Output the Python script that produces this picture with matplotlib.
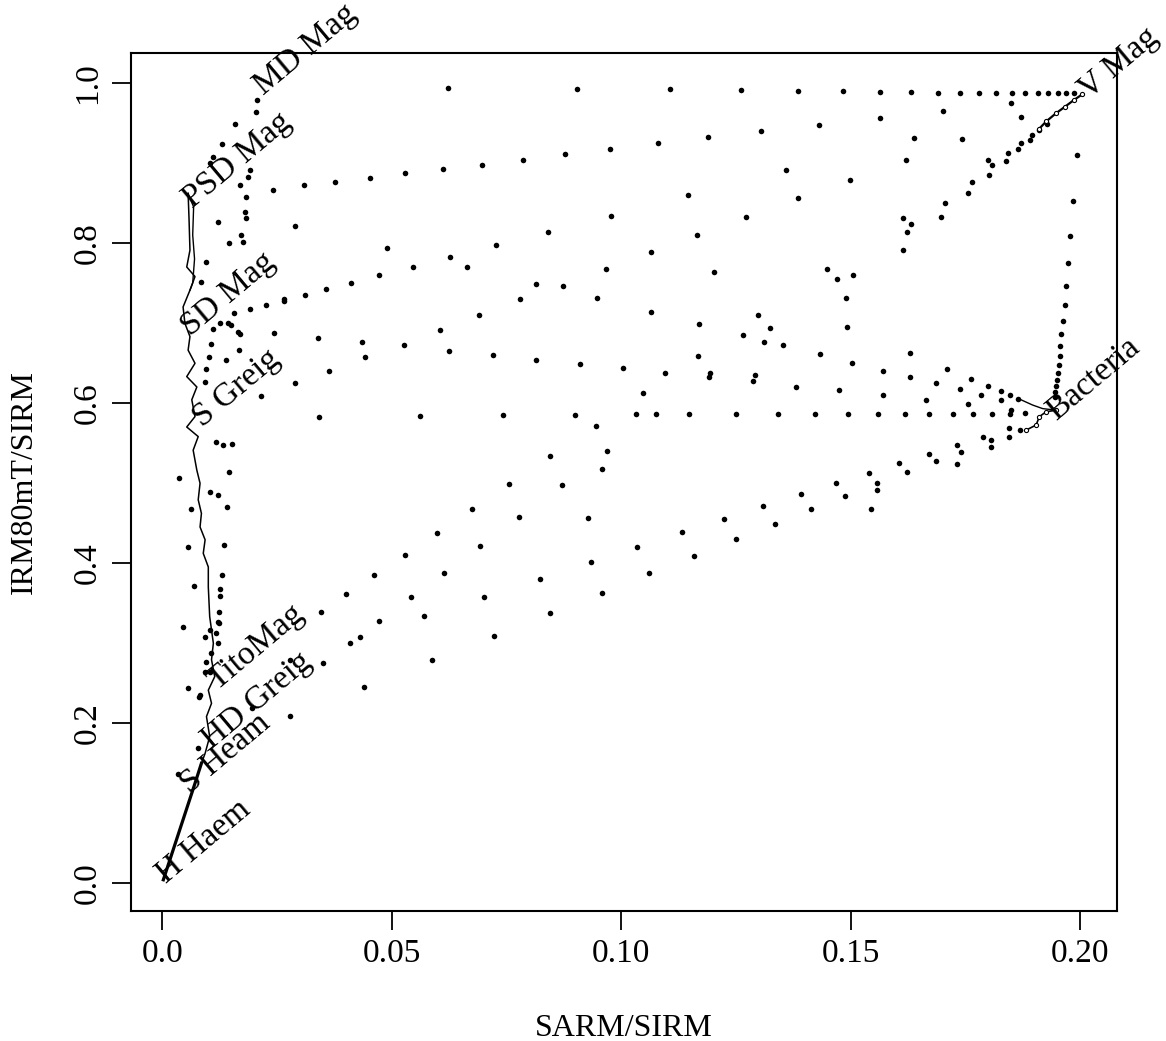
import matplotlib
matplotlib.use('Agg')
import matplotlib.pyplot as plt

plt.rcParams['font.family'] = ['Liberation Serif', 'DejaVu Serif']

# End members (label anchors)
member_names = ['H Haem', 'S Heam', 'HD Greig', 'TitoMag', 'S Greig',
                'SD Mag', 'PSD Mag', 'MD Mag', 'V Mag', 'Bacteria']
member_x = [-0.0008, 0.0044, 0.0091, 0.0102, 0.0070,
            0.0045, 0.0048, 0.0204, 0.2001, 0.1932]
member_y = [0.010, 0.123, 0.178, 0.252, 0.581,
            0.694, 0.854, 0.996, 0.990, 0.589]

# Mixing lines (dots)
md_vmag_x = [0.0622, 0.0904, 0.1106, 0.1261, 0.1384, 0.1483, 0.1564, 0.1632, 0.1690, 0.1738,
             0.1780, 0.1817, 0.1851, 0.1880, 0.1907, 0.1930, 0.1951, 0.1970, 0.1987]
md_vmag_y = [0.994, 0.993, 0.992, 0.991, 0.990, 0.990, 0.989, 0.989, 0.988, 0.988,
             0.988, 0.988, 0.988, 0.987, 0.987, 0.987, 0.987, 0.987, 0.987]

psd_vmag_x = [0.0241, 0.0308, 0.0377, 0.0453, 0.0529, 0.0611, 0.0696, 0.0785, 0.0878,
              0.0976, 0.1079, 0.1189, 0.1305, 0.1430, 0.1563, 0.1700, 0.1849]
psd_vmag_y = [0.866, 0.8725, 0.8767, 0.8817, 0.887, 0.8925, 0.898, 0.904, 0.911,
              0.9175, 0.9246, 0.932, 0.9396, 0.9475, 0.9566, 0.965, 0.9754]

psd_md_x = [0.0104, 0.0110, 0.0130, 0.0159, 0.0204, 0.0206]
psd_md_y = [0.8996, 0.908, 0.924, 0.9488, 0.964, 0.979]

md_down_x = [0.0190, 0.0186, 0.0170, 0.0183, 0.0179, 0.0183, 0.0172, 0.0175]
md_down_y = [0.891, 0.883, 0.8725, 0.858, 0.839, 0.831, 0.810, 0.8016]

vmag_bact_x = [0.1993, 0.1985, 0.1978, 0.1973, 0.1969, 0.1966, 0.1962, 0.1959,
               0.1957, 0.1955, 0.1953, 0.1952, 0.1949, 0.1947, 0.1946, 0.1944]
vmag_bact_y = [0.910, 0.853, 0.809, 0.7746, 0.746, 0.7225, 0.703, 0.686,
               0.6716, 0.6588, 0.6475, 0.638, 0.629, 0.621, 0.614, 0.608]

vmag_lower_x = [0.1927, 0.1911, 0.1894, 0.1891, 0.1871, 0.1865, 0.1842, 0.1838,
                0.1798, 0.1807, 0.1802, 0.1764, 0.1756]
vmag_lower_y = [0.9488, 0.941, 0.935, 0.9288, 0.9254, 0.9175, 0.9129, 0.903,
                0.9038, 0.8975, 0.885, 0.8766, 0.862]

greig_bact_x = [0.0341, 0.0561, 0.0743, 0.0899, 0.1032, 0.1076, 0.1147, 0.1249, 0.1341,
                0.1422, 0.1494, 0.1560, 0.1619, 0.1671, 0.1722, 0.1766, 0.1807, 0.1846]
greig_bact_y = [0.583, 0.584, 0.585, 0.585, 0.586, 0.586, 0.586, 0.586, 0.586,
                0.586, 0.586, 0.586, 0.586, 0.586, 0.586, 0.586, 0.586, 0.586]

upper_x = [0.0289, 0.0489, 0.0626, 0.0546, 0.0473, 0.0411, 0.0356, 0.0310, 0.0266,
           0.1146, 0.0977, 0.1272, 0.0841, 0.1166, 0.0726, 0.1064, 0.0663, 0.0967,
           0.1202, 0.0814, 0.0873, 0.0780, 0.0947,
           0.1871, 0.1638, 0.1743, 0.1359, 0.1620, 0.1499, 0.1384, 0.1705, 0.1697,
           0.1613, 0.1631, 0.1623, 0.1614, 0.1448, 0.1470, 0.1504, 0.1490]
upper_y = [0.8213, 0.7942, 0.783, 0.7704, 0.760, 0.7504, 0.743, 0.735, 0.730,
           0.860, 0.834, 0.832, 0.8137, 0.8096, 0.797, 0.7883, 0.7696, 0.7675,
           0.7638, 0.7488, 0.7467, 0.730, 0.7309,
           0.9575, 0.9308, 0.9304, 0.8908, 0.9042, 0.8787, 0.8558, 0.850, 0.8325,
           0.8308, 0.8233, 0.8133, 0.791, 0.767, 0.7546, 0.760, 0.7316]

middle_x = [0.0690, 0.1064, 0.1298, 0.1170, 0.1325, 0.1265, 0.1310, 0.0720, 0.0815,
            0.0910, 0.1003, 0.1095, 0.1167, 0.1193, 0.1191, 0.1292, 0.1286, 0.1048,
            0.0157, 0.0191, 0.0226, 0.0265, 0.0150, 0.0168, 0.0244, 0.0340, 0.0435,
            0.0526, 0.0604, 0.0624, 0.0441, 0.0363, 0.0288, 0.0215,
            0.1491, 0.1352, 0.1432, 0.1503, 0.1630, 0.1570, 0.1629, 0.1710, 0.1380,
            0.1475, 0.1570, 0.1685, 0.1762, 0.1737, 0.1664, 0.1799, 0.1784, 0.1827,
            0.1756, 0.1827, 0.1847, 0.1864, 0.1849, 0.1880]
middle_y = [0.7096, 0.7133, 0.710, 0.6983, 0.6933, 0.6846, 0.6758, 0.6596, 0.6541,
            0.6491, 0.6441, 0.638, 0.659, 0.637, 0.633, 0.635, 0.627, 0.6129,
            0.7121, 0.717, 0.7225, 0.7275, 0.6975, 0.686, 0.6871, 0.6808, 0.676,
            0.6725, 0.6913, 0.6654, 0.657, 0.6404, 0.6246, 0.6088,
            0.6954, 0.6725, 0.6609, 0.6504, 0.662, 0.6404, 0.632, 0.6425, 0.6204,
            0.6158, 0.610, 0.6246, 0.630, 0.617, 0.6037, 0.6216, 0.6096, 0.6154,
            0.5983, 0.6037, 0.6096, 0.605, 0.5912, 0.587]

lower_x = [0.0944, 0.0845, 0.0968, 0.0958, 0.0755, 0.0870, 0.0674, 0.0778, 0.0928,
           0.1309, 0.1223, 0.1132, 0.1249, 0.0693, 0.1035, 0.1159, 0.0933, 0.1061,
           0.0822, 0.0700, 0.0957,
           0.1731, 0.1740, 0.1732, 0.1670, 0.1685, 0.1606, 0.1623, 0.1540, 0.1557,
           0.1557, 0.1468, 0.1488, 0.1391, 0.1414, 0.1545, 0.1334, 0.1788, 0.1806,
           0.1805, 0.1844, 0.1844, 0.1868,
           0.0599, 0.0528, 0.0462, 0.0613, 0.0400, 0.0541,
           0.0345, 0.0473, 0.0571, 0.0409, 0.0430, 0.0588, 0.0277, 0.0350, 0.0440,
           0.0278, 0.0196, 0.0845, 0.0722]
lower_y = [0.5713, 0.5333, 0.5404, 0.5175, 0.4984, 0.4975, 0.467, 0.458, 0.4558,
           0.4708, 0.455, 0.4383, 0.430, 0.4217, 0.4204, 0.4092, 0.4008, 0.387,
           0.3796, 0.358, 0.3629,
           0.5475, 0.539, 0.5233, 0.5366, 0.528, 0.525, 0.5142, 0.513, 0.500,
           0.4908, 0.500, 0.4841, 0.4862, 0.467, 0.467, 0.4491, 0.558, 0.5537,
           0.545, 0.5683, 0.558, 0.5663,
           0.4371, 0.4096, 0.385, 0.3879, 0.3609, 0.3571,
           0.3392, 0.3275, 0.3338, 0.2996, 0.3071, 0.2788, 0.2788, 0.2746, 0.2446,
           0.2088, 0.219, 0.3379, 0.3092]

left_x = [0.0121, 0.0145, 0.0095, 0.0085, 0.0143, 0.0165, 0.0125,
          0.0110, 0.0105, 0.0167, 0.0101, 0.0139, 0.0094, 0.0092, 0.0117, 0.0132,
          0.0151, 0.0146, 0.0037, 0.0104, 0.0122, 0.0141, 0.0063, 0.0056, 0.0134,
          0.0130, 0.0069, 0.0126, 0.0126,
          0.0045, 0.0056, 0.0080, 0.0077, 0.0034, 0.0123, 0.0123, 0.0117, 0.0103,
          0.0092, 0.0121, 0.0106, 0.0095, 0.0092, 0.0103, 0.0122, 0.0082]
left_y = [0.8266, 0.7996, 0.7766, 0.7516, 0.700, 0.689, 0.700,
          0.692, 0.6733, 0.6663, 0.657, 0.654, 0.642, 0.6266, 0.5517, 0.5475,
          0.5484, 0.5133, 0.5058, 0.4891, 0.485, 0.470, 0.467, 0.4196, 0.4225,
          0.3846, 0.3716, 0.3675, 0.3591,
          0.3204, 0.2433, 0.2329, 0.1683, 0.1358, 0.339, 0.3246, 0.312, 0.316,
          0.308, 0.2996, 0.287, 0.2766, 0.264, 0.264, 0.3266, 0.235]

# Measured profiles (lines)
left_profile_x = [0.0056, 0.0058, 0.0060, 0.0053, 0.0071, 0.0060, 0.0045, 0.0049, 0.0060,
                  0.0056, 0.0071, 0.0053, 0.0075, 0.0064, 0.0071, 0.0053, 0.0078, 0.0067,
                  0.0075, 0.0082, 0.0078, 0.0085, 0.0082, 0.0093, 0.0089, 0.0100, 0.0100,
                  0.0103, 0.0111, 0.0107, 0.0114, 0.0100, 0.0107, 0.0096, 0.0103, 0.0093,
                  0.0085]
left_profile_y = [0.862, 0.830, 0.791, 0.770, 0.758, 0.741, 0.720, 0.6996, 0.683,
                  0.666, 0.6496, 0.633, 0.620, 0.604, 0.583, 0.570, 0.558, 0.541,
                  0.516, 0.4996, 0.479, 0.462, 0.445, 0.429, 0.412, 0.395, 0.370,
                  0.333, 0.2996, 0.279, 0.258, 0.241, 0.2246, 0.208, 0.183, 0.162,
                  0.1496]
left_trace_x = [0.0056, 0.0068, 0.0066, 0.0070, 0.0066, 0.0060]
left_trace_y = [0.862, 0.845, 0.810, 0.780, 0.750, 0.741]

haem_x = [0.0085, 0.0071, 0.0002]
haem_y = [0.1496, 0.1246, 0.004]

vmag_profile_x = [0.1911, 0.1926, 0.1947, 0.1966, 0.1987, 0.2005]
vmag_profile_y = [0.943, 0.952, 0.962, 0.970, 0.979, 0.986]

bact_profile_x = [0.1882, 0.1904, 0.1911, 0.1926, 0.1947]
bact_profile_y = [0.566, 0.5725, 0.583, 0.589, 0.591]
bact_trace_x = [0.1871, 0.1896, 0.1918, 0.1947]
bact_trace_y = [0.604, 0.5975, 0.593, 0.591]


fig = plt.figure(figsize=(11.66, 10.41), dpi=100)
ax = fig.add_axes([0.1123, 0.1249, 0.8456, 0.8242])

dot_sets = [
    (md_vmag_x, md_vmag_y), (psd_vmag_x, psd_vmag_y), (psd_md_x, psd_md_y),
    (md_down_x, md_down_y), (vmag_bact_x, vmag_bact_y), (vmag_lower_x, vmag_lower_y),
    (greig_bact_x, greig_bact_y), (upper_x, upper_y), (middle_x, middle_y),
    (lower_x, lower_y), (left_x, left_y),
]
for xs, ys in dot_sets:
    ax.plot(xs, ys, linestyle='none', marker='o', ms=4.0, color='black', mec='none')

ax.plot(left_profile_x, left_profile_y, color='black', lw=1.1)
ax.plot(left_trace_x, left_trace_y, color='black', lw=1.0)
ax.plot(haem_x, haem_y, color='black', lw=2.3)
ax.plot(vmag_profile_x, vmag_profile_y, color='black', lw=1.6, marker='o', ms=3,
        mfc='white', mec='black', mew=0.8)
ax.plot(bact_profile_x, bact_profile_y, color='black', lw=1.2, marker='o', ms=3,
        mfc='white', mec='black', mew=0.8)
ax.plot(bact_trace_x, bact_trace_y, color='black', lw=1.0)

for name, x, y in zip(member_names, member_x, member_y):
    ax.text(x, y, name, fontsize=24, rotation=40, rotation_mode='anchor',
            ha='left', va='center_baseline', clip_on=False)

ax.set_xlim(-0.00686, 0.2080)
ax.set_ylim(-0.035, 1.0375)

ax.set_xticks([0.0, 0.05, 0.10, 0.15, 0.20])
ax.set_xticklabels(['0.0', '0.05', '0.10', '0.15', '0.20'])
ax.set_yticks([0.0, 0.2, 0.4, 0.6, 0.8, 1.0])
ax.set_yticklabels(['0.0', '0.2', '0.4', '0.6', '0.8', '1.0'], rotation=90, va='center')
ax.tick_params(direction='out', length=14, width=1.3, labelsize=24, pad=6, color='black')

for spine in ax.spines.values():
    spine.set_linewidth(1.5)

ax.set_xlabel('SARM/SIRM', fontsize=23, labelpad=32)
ax.set_ylabel('IRM80mT/SIRM', fontsize=23, labelpad=24)

fig.savefig('out.png', dpi=100)
